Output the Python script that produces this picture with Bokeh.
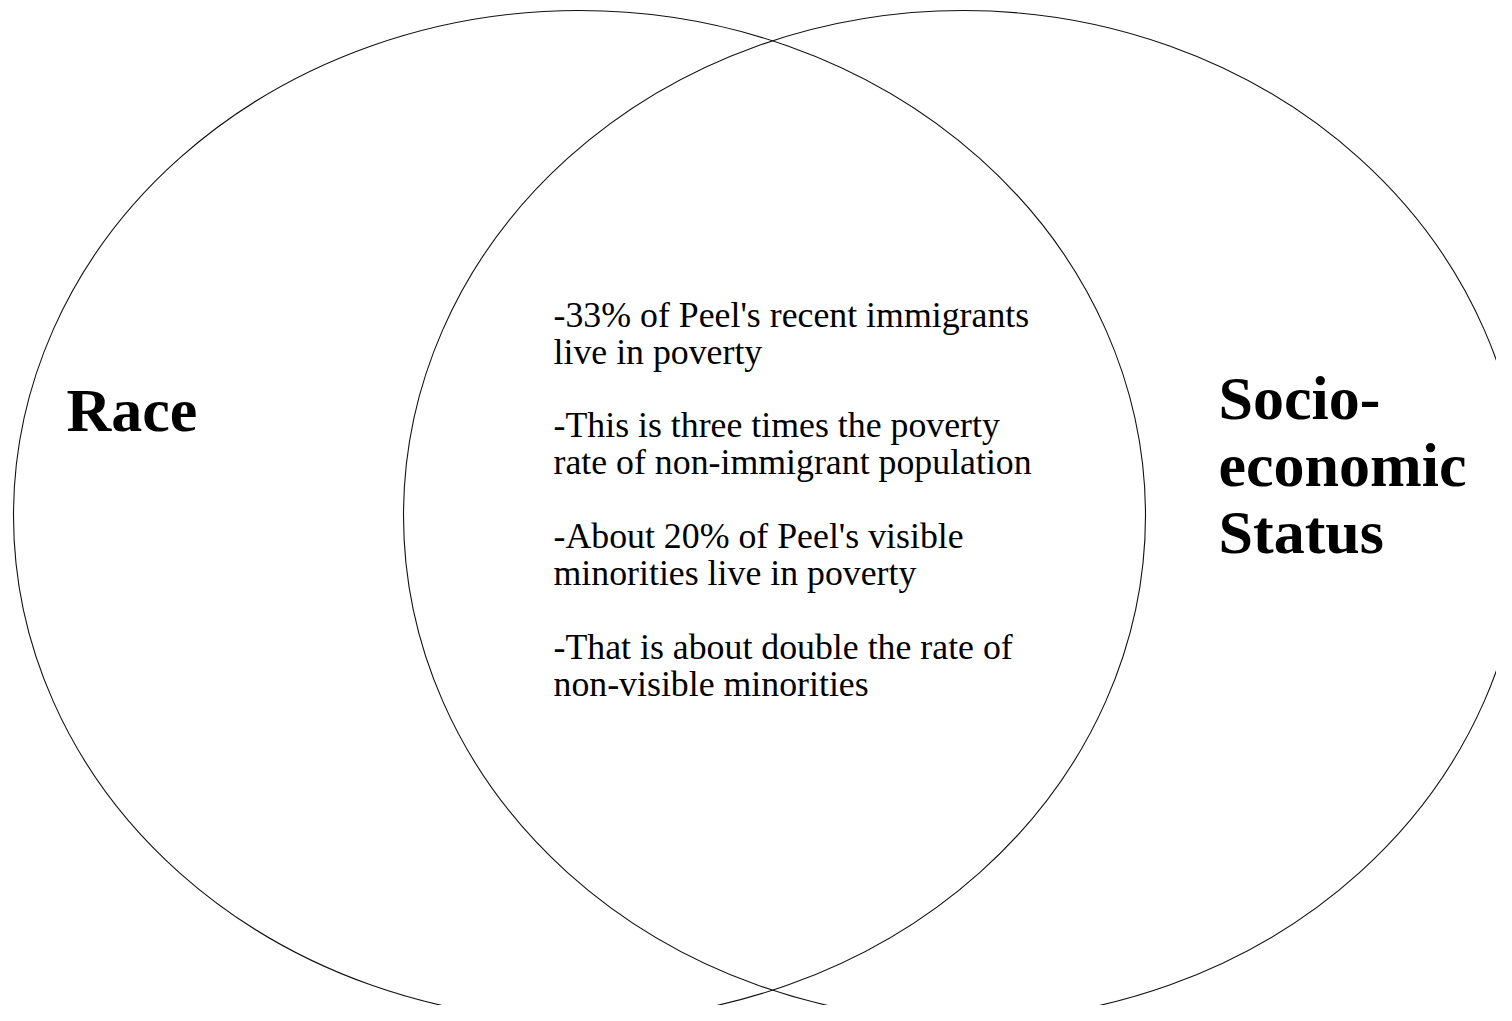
from bokeh.plotting import figure
from bokeh.models import Range1d
from bokeh.core.properties import value
from bokeh.embed import file_html
from bokeh.resources import INLINE

# ---- data ----
set_names = ["Race", "Socio-economic Status"]
race_label_lines = ["Race"]
ses_label_lines = ["Socio-", "economic", "Status"]
overlap_facts = [
    ["-33% of Peel's recent immigrants", "live in poverty"],
    ["-This is three times the poverty", "rate of non-immigrant population"],
    ["-About 20% of Peel's visible", "minorities live in poverty"],
    ["-That is about double the rate of", "non-visible minorities"],
]

W, H = 1496, 1005
p = figure(width=W, height=H, output_backend="svg", toolbar_location=None,
           x_range=Range1d(0, W), y_range=Range1d(H, 0),
           min_border=0, background_fill_color="white", border_fill_color="white")
p.axis.visible = False
p.grid.visible = False
p.outline_line_color = None

# circles (sets)
p.ellipse(x=[579, 963], y=[515, 515], width=[1132, 1120], height=[1010, 1010],
          fill_color=None, line_color="#111111", line_width=1.1)

serif = value("Liberation Serif")
BIG = 62
SMALL = 35.8
k = 0.385  # baseline correction factor

# set labels
p.text(x=[66], y=[433 - k * BIG], text=race_label_lines, text_font=serif,
       text_font_size=f"{BIG}px", text_font_style="bold", text_color="black",
       text_baseline="alphabetic", text_align="left")
ses_y = [421 - k * BIG + i * 67 for i in range(len(ses_label_lines))]
p.text(x=[1218] * len(ses_label_lines), y=ses_y, text=ses_label_lines, text_font=serif,
       text_font_size=f"{BIG}px", text_font_style="bold", text_color="black",
       text_baseline="alphabetic", text_align="left")

# overlap text
xs, ys, ts = [], [], []
for i, para in enumerate(overlap_facts):
    for j, line in enumerate(para):
        xs.append(553)
        ys.append(328 - k * SMALL + i * 110.7 + j * 36.8)
        ts.append(line)
p.text(x=xs, y=ys, text=ts, text_font=serif, text_font_size=f"{SMALL}px",
       text_color="black", text_baseline="alphabetic", text_align="left")

open("out.html", "w").write(file_html(p, INLINE))
